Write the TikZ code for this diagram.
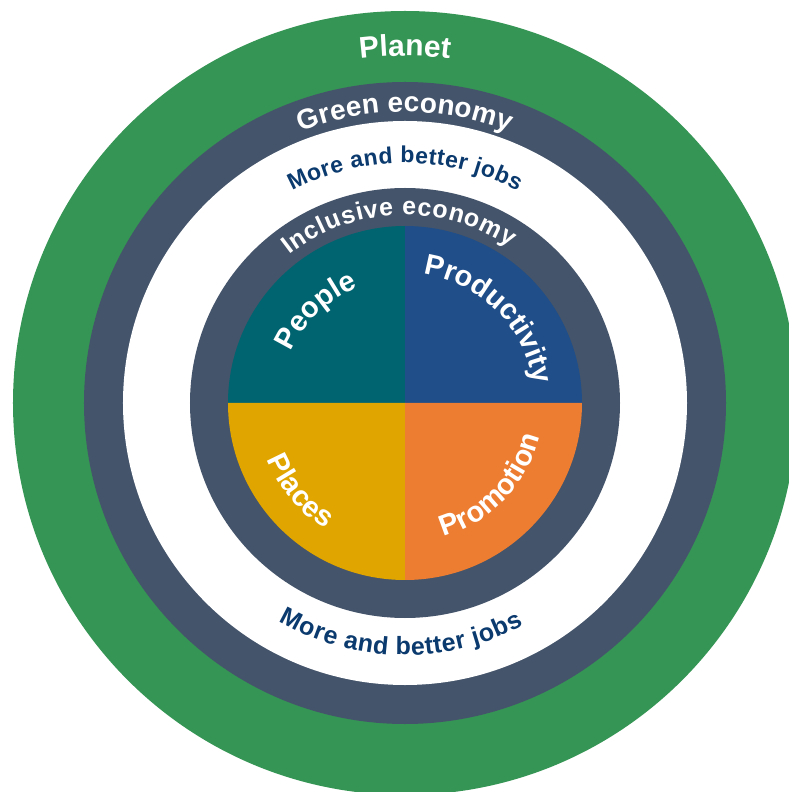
\documentclass[tikz,border=0pt]{standalone}
\usepackage{fontspec}
\setmainfont{Liberation Sans}
\usetikzlibrary{decorations.text}
\definecolor{planetgreen}{HTML}{359554}
\definecolor{slate}{HTML}{44546A}
\definecolor{peopleteal}{HTML}{006470}
\definecolor{prodblue}{HTML}{1F4E89}
\definecolor{placegold}{HTML}{E1A500}
\definecolor{promoorange}{HTML}{ED7D31}
\definecolor{jobsnavy}{HTML}{0A3A6E}
\newcommand\tf[1]{\fontsize{#1pt}{#1pt}\selectfont\bfseries}
\tikzset{
  ringtext/.style n args={3}{decorate, decoration={text along path,
      text={|\tf{#1}|#2}, text align=#3, text color=white}},
  jobstext/.style n args={2}{decorate, decoration={text along path,
      text={|\tf{#1}|#2}, text align={fit to path}, text color=jobsnavy}}
}
\begin{document}
\begin{tikzpicture}
\useasboundingbox (-405pt,-389pt) rectangle (384pt,403pt);
% rings
\fill[planetgreen] (0,0) circle[radius=392pt];
\fill[slate] (0,0) circle[radius=321pt];
\fill[white] (0,0) circle[radius=282pt];
\fill[slate] (0,0) circle[radius=215pt];
% pie
\fill[peopleteal] (0,0) -- (90:177pt) arc[start angle=90, end angle=180, radius=177pt] -- cycle;
\fill[prodblue] (0,0) -- (0:177pt) arc[start angle=0, end angle=90, radius=177pt] -- cycle;
\fill[placegold] (0,0) -- (180:177pt) arc[start angle=180, end angle=270, radius=177pt] -- cycle;
\fill[promoorange] (0,0) -- (270:177pt) arc[start angle=270, end angle=360, radius=177pt] -- cycle;
% ring labels
\path[ringtext={30}{Planet}{center}] (102:347pt) arc[start angle=102, end angle=78, radius=347pt];
\path[ringtext={28}{Green economy}{fit to path}] (111:291pt) arc[start angle=111, end angle=69, radius=291pt];
\path[jobstext={23}{More and better jobs}] (118:240pt) arc[start angle=118, end angle=62, radius=240pt];
\path[ringtext={25}{Inclusive economy}{fit to path}] (128:188pt) arc[start angle=128, end angle=56, radius=188pt];
\path[jobstext={25}{More and better jobs}] (240:252pt) arc[start angle=240, end angle=298, radius=252pt];
% pie labels
\path[ringtext={29}{People}{center}] (164:125pt) arc[start angle=164, end angle=104, radius=125pt];
\path[ringtext={29}{Productivity}{center}] (88:130pt) arc[start angle=88, end angle=2, radius=130pt];
\path[ringtext={29}{Places}{center}] (195:149pt) arc[start angle=195, end angle=245, radius=149pt];
\path[ringtext={29}{Promotion}{center}] (280:139pt) arc[start angle=280, end angle=352, radius=139pt];
\end{tikzpicture}
\end{document}
